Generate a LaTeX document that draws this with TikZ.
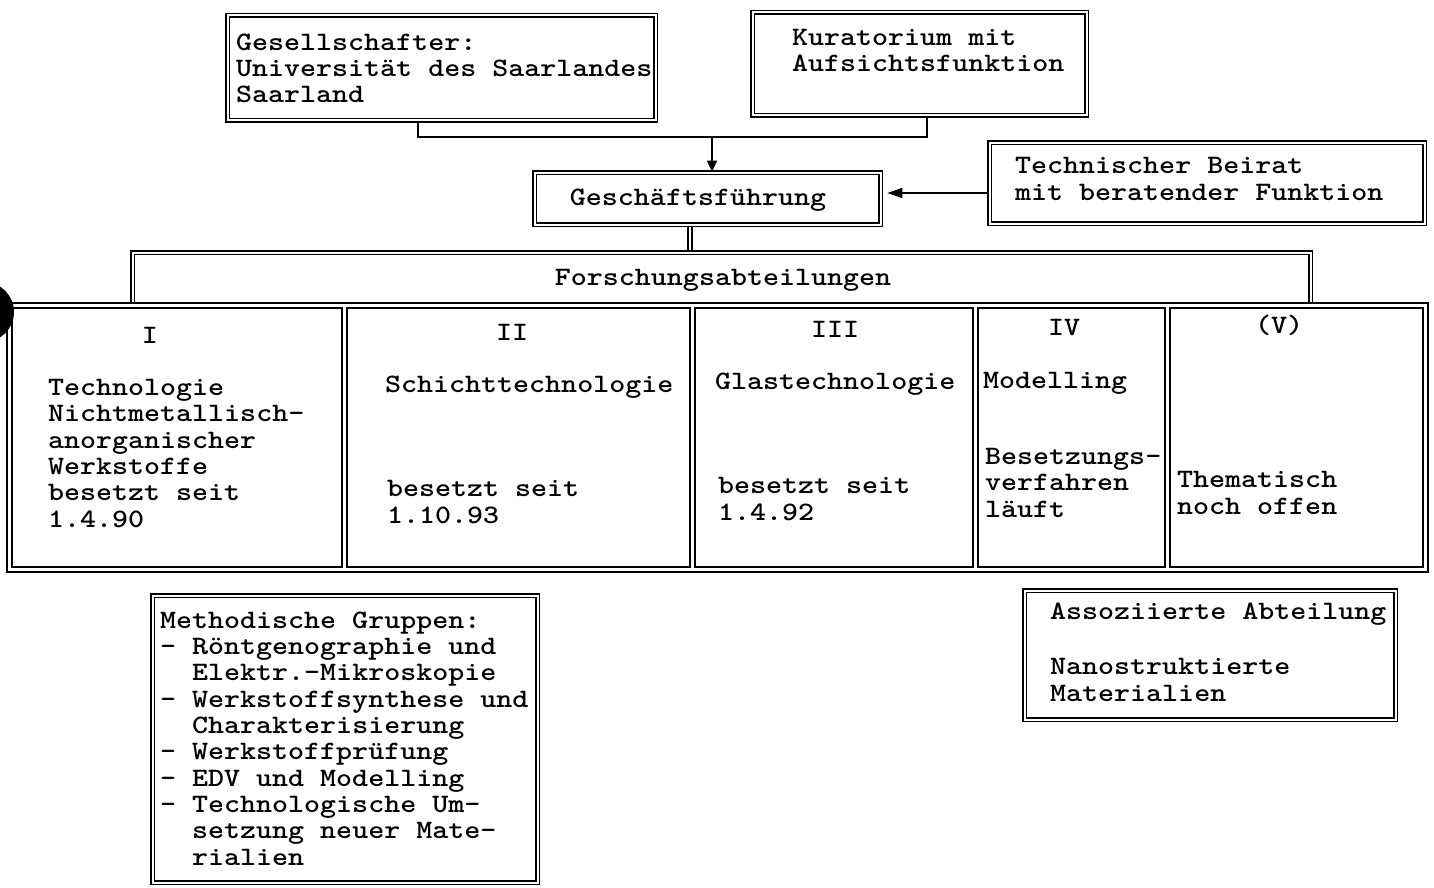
\documentclass[tikz,border=0pt]{standalone}
\usepackage{fontspec}
\usetikzlibrary{arrows.meta,backgrounds}
\newfontfamily\cour{lmmonolt10-bold.otf}[FakeStretch=1.146]
\newcommand\txtfont{\cour\fontsize{26.6pt}{26.3pt}\selectfont}
\tikzset{
  dbox/.style={draw, double, double distance=2pt, line width=1.6pt, rectangle, inner sep=0pt},
  sbox/.style={draw, line width=1.6pt, rectangle, inner sep=0pt},
  dline/.style={draw, double, double distance=2pt, line width=1.6pt},
  txt/.style={font=\txtfont, anchor=base west, align=left, inner sep=0pt},
  ctxt/.style={font=\txtfont, anchor=base, inner sep=0pt},
  conn/.style={line width=1.7pt},
  arr/.style={conn, -{Triangle[length=11pt,width=10pt]}}
}
\begin{document}
\begin{tikzpicture}[x=1pt,y=-1pt]
\useasboundingbox (0,0) rectangle (1434,888);
% scan artefact
\begin{scope}
\clip (0,0) rectangle (1434,888);
\fill (-16,312) circle (30pt);
\end{scope}

% top boxes (multi-line texts are placed by the baseline of their last line)
\node[dbox, minimum width=428pt, minimum height=105pt] (ges) at (441.5,68) {};
\node[dbox, minimum width=334pt, minimum height=103pt] (kur) at (919.5,64) {};
\node[dbox, minimum width=346pt, minimum height=52pt] (gf) at (707.5,198.5) {};
\node[dbox, minimum width=435pt, minimum height=81pt] (beirat) at (1207,183) {};

\node[txt] (gestxt) at (236,103) {Gesellschafter:\\Universität des Saarlandes\\Saarland};
\node[txt] (kurtxt) at (792,72) {Kuratorium mit\\Aufsichtsfunktion};
\node[ctxt] (gftxt) at (698,205) {Geschäftsführung};
\node[txt] (beirattxt) at (1015,200) {Technischer Beirat\\mit beratender Funktion};

% Forschungsabteilungen
\coordinate (ftop) at (690,252.5);
\draw[dline] (132.5,303) |- (1310.5,252.5) -- (1310.5,303);
\node[ctxt] (fo) at (723,285) {Forschungsabteilungen};

% department row
\node[sbox, minimum width=1421pt, minimum height=269pt] (row) at (717.5,437.5) {};
\node[sbox, minimum width=330pt, minimum height=259pt] (d1) at (177,437.5) {};
\node[sbox, minimum width=343pt, minimum height=259pt] (d2) at (518.5,437.5) {};
\node[sbox, minimum width=278pt, minimum height=259pt] (d3) at (834,437.5) {};
\node[sbox, minimum width=187pt, minimum height=259pt] (d4) at (1071.5,437.5) {};
\node[sbox, minimum width=253pt, minimum height=259pt] (d5) at (1296.5,437.5) {};

\node[ctxt] (n1) at (150,343) {I};
\node[txt] (t1) at (48,527) {Technologie\\Nichtmetallisch-\\anorganischer\\Werkstoffe\\besetzt seit\\1.4.90};

\node[ctxt] (n2) at (512,340) {II};
\node[txt] (t2) at (385,392) {Schichttechnologie};
\node[txt] (s2) at (387,523) {besetzt seit\\1.10.93};

\node[ctxt] (n3) at (835,337) {III};
\node[txt] (t3) at (715,389) {Glastechnologie};
\node[txt] (s3) at (718,520) {besetzt seit\\1.4.92};

\node[ctxt] (n4) at (1064,335) {IV};
\node[txt] (t4) at (983,388) {Modelling};
\node[txt] (s4) at (985,517) {Besetzungs-\\verfahren\\läuft};

\node[ctxt] (n5) at (1279,333) {(V)};
\node[txt] (s5) at (1177,514) {Thematisch\\noch offen};

% bottom boxes
\node[dbox, minimum width=385pt, minimum height=287pt] (meth) at (345,739) {};
\node[txt] (methtxt) at (160,865) {Methodische Gruppen:\\- Röntgenographie und\\\phantom{- }Elektr.-Mikroskopie\\- Werkstoffsynthese und\\\phantom{- }Charakterisierung\\- Werkstoffprüfung\\- EDV und Modelling\\- Technologische Um-\\\phantom{- }setzung neuer Mate-\\\phantom{- }rialien};

\node[dbox, minimum width=371pt, minimum height=129pt] (assoz) at (1210,655) {};
\node[txt] (assoztxt) at (1050,701) {Assoziierte Abteilung\\[29pt]Nanostruktierte\\Materialien};

% connectors
\begin{scope}[on background layer]
\coordinate (j) at (712,137);
\draw[conn] ([xshift=-23.5pt]ges.south) |- (j) -| ([xshift=7.5pt]kur.south);
\draw[arr] (j) -- (j |- gf.north);
\draw[arr, -{Triangle[length=15pt,width=10pt]}, shorten >=6pt] (beirat.west |- 0,193) -- (gf.east |- 0,193);
\draw[dline] (gf.south -| ftop) -- (ftop);
\end{scope}
\end{tikzpicture}
\end{document}
